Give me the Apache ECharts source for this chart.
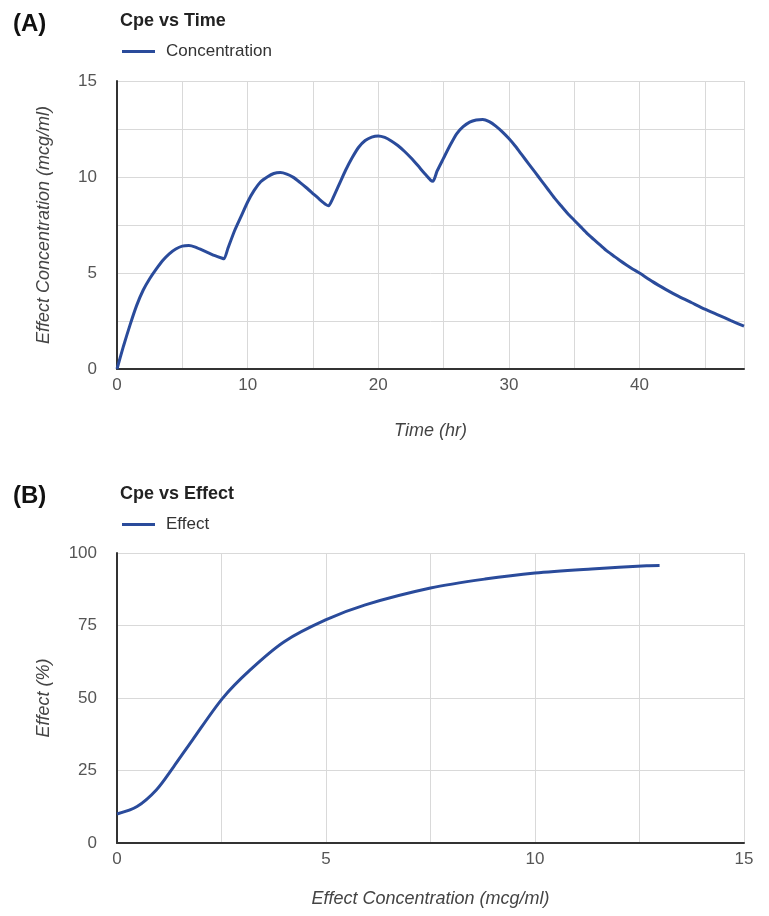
<!DOCTYPE html>
<html>
<head>
<meta charset="utf-8">
<script src="https://cdn.jsdelivr.net/npm/echarts@6/dist/echarts.min.js"></script>
<style>
  html, body { margin: 0; padding: 0; background: #fff; }
  #chart { width: 769px; height: 916px; }
</style>
</head>
<body>
<div id="chart"></div>
<script>
// Panel A: effect-site concentration over time
const timeHr = [0, 0.5, 1, 1.5, 2, 2.5, 3, 3.5, 4, 4.5, 5, 5.5, 6, 6.5, 7, 7.5, 8, 8.2,
  8.5, 9, 9.5, 10, 10.5, 11, 11.5, 12, 12.5, 13, 13.5, 14, 14.5, 15, 15.5, 16, 16.2,
  16.5, 17, 17.5, 18, 18.5, 19, 19.5, 20, 20.5, 21, 21.5, 22, 22.5, 23, 23.5, 24, 24.2,
  24.5, 25, 25.5, 26, 26.5, 27, 27.5, 28, 28.5, 29, 29.5, 30, 30.5, 31, 31.5, 32,
  32.5, 33, 33.5, 34, 34.5, 35, 35.5, 36, 36.5, 37, 37.5, 38, 38.5, 39, 39.5, 40,
  41, 42, 43, 44, 45, 46, 47, 48]
const concentration = [0, 1.2, 2.3, 3.3, 4.1, 4.7, 5.2, 5.65, 6.0, 6.25, 6.4, 6.43, 6.35, 6.2, 6.05, 5.9, 5.78, 5.74,
  6.3, 7.2, 7.95, 8.7, 9.3, 9.75, 10.0, 10.18, 10.23, 10.15, 9.98, 9.72, 9.44, 9.14, 8.84, 8.56, 8.5,
  8.85, 9.6, 10.35, 11.0, 11.55, 11.9, 12.08, 12.14, 12.06, 11.88, 11.64, 11.34, 11.0, 10.62, 10.22, 9.84, 9.78,
  10.3, 10.98, 11.65, 12.25, 12.62, 12.86, 12.97, 13.0, 12.88, 12.65, 12.35, 12.0, 11.6, 11.15, 10.7, 10.25,
  9.8, 9.35, 8.9, 8.5, 8.1, 7.75, 7.4, 7.05, 6.75, 6.45, 6.15, 5.9, 5.65, 5.42, 5.2, 5.0,
  4.55, 4.15, 3.78, 3.45, 3.12, 2.82, 2.52, 2.23]

// Panel B: concentration-effect relationship
const cpe = [0, 0.48, 0.94, 1.35, 1.8, 2.52, 3.18, 4.0, 4.99, 5.94, 7.5, 8.8, 10.0, 11.35, 12.67, 12.98]
const effectPct = [10.0, 12.6, 18.3, 26.2, 35.4, 49.8, 59.6, 69.4, 76.9, 82.1, 87.9, 91.0, 93.1, 94.5, 95.6, 95.7]

const lineColor = '#2a4b9b'
const font = 'Liberation Sans, Arial, sans-serif'

function axisCommon(extra) {
  return Object.assign({
    axisLine: { show: true, lineStyle: { color: '#333', width: 2 } },
    axisTick: { show: false },
    splitLine: { show: true, lineStyle: { color: '#d9d9d9', width: 1 } },
    nameLocation: 'middle',
    nameTextStyle: { color: '#444', fontSize: 18, fontStyle: 'italic', fontFamily: font }
  }, extra)
}

function tickLabel(step, margin) {
  return {
    color: '#555', fontSize: 17, fontFamily: font, margin: margin,
    formatter: v => (v % step === 0 ? String(v) : '')
  }
}

const chart = echarts.init(document.getElementById('chart'))

chart.setOption({
  animation: false,
  backgroundColor: '#fff',
  title: [
    { text: '(A)', left: 8, top: 7, textStyle: { fontSize: 24, fontWeight: 'bold', color: '#111', fontFamily: font } },
    { text: 'Cpe vs Time', left: 115, top: 7, textStyle: { fontSize: 18, fontWeight: 'bold', color: '#222', fontFamily: font } },
    { text: '(B)', left: 8, top: 479, textStyle: { fontSize: 24, fontWeight: 'bold', color: '#111', fontFamily: font } },
    { text: 'Cpe vs Effect', left: 115, top: 480, textStyle: { fontSize: 18, fontWeight: 'bold', color: '#222', fontFamily: font } }
  ],
  legend: [
    {
      data: ['Concentration'], left: 117, top: 38, icon: 'rect', itemWidth: 33, itemHeight: 3,
      textStyle: { fontSize: 17, color: '#333', fontFamily: font, padding: [0, 0, 0, 6] }
    },
    {
      data: ['Effect'], left: 117, top: 511, icon: 'rect', itemWidth: 33, itemHeight: 3,
      textStyle: { fontSize: 17, color: '#333', fontFamily: font, padding: [0, 0, 0, 6] }
    }
  ],
  grid: [
    { left: 117, right: 25, top: 81, height: 288 },
    { left: 117, right: 25, top: 553, height: 290 }
  ],
  xAxis: [
    axisCommon({
      gridIndex: 0, type: 'value', min: 0, max: 48, interval: 5,
      name: 'Time (hr)', nameGap: 53,
      axisLabel: tickLabel(10, 8)
    }),
    axisCommon({
      gridIndex: 1, type: 'value', min: 0, max: 15, interval: 2.5,
      name: 'Effect Concentration (mcg/ml)', nameGap: 47,
      axisLabel: tickLabel(5, 8)
    })
  ],
  yAxis: [
    axisCommon({
      gridIndex: 0, type: 'value', min: 0, max: 15, interval: 2.5,
      name: 'Effect Concentration (mcg/ml)', nameGap: 64,
      axisLabel: tickLabel(5, 20)
    }),
    axisCommon({
      gridIndex: 1, type: 'value', min: 0, max: 100, interval: 25,
      name: 'Effect (%)', nameGap: 64,
      axisLabel: tickLabel(25, 20)
    })
  ],
  series: [
    {
      name: 'Concentration', type: 'line', xAxisIndex: 0, yAxisIndex: 0,
      data: timeHr.map((t, i) => [t, concentration[i]]),
      showSymbol: false, smooth: 0.2,
      lineStyle: { color: lineColor, width: 3 }, itemStyle: { color: lineColor }
    },
    {
      name: 'Effect', type: 'line', xAxisIndex: 1, yAxisIndex: 1,
      data: cpe.map((c, i) => [c, effectPct[i]]),
      showSymbol: false, smooth: 0.3,
      lineStyle: { color: lineColor, width: 3 }, itemStyle: { color: lineColor }
    }
  ]
})
</script>
</body>
</html>
